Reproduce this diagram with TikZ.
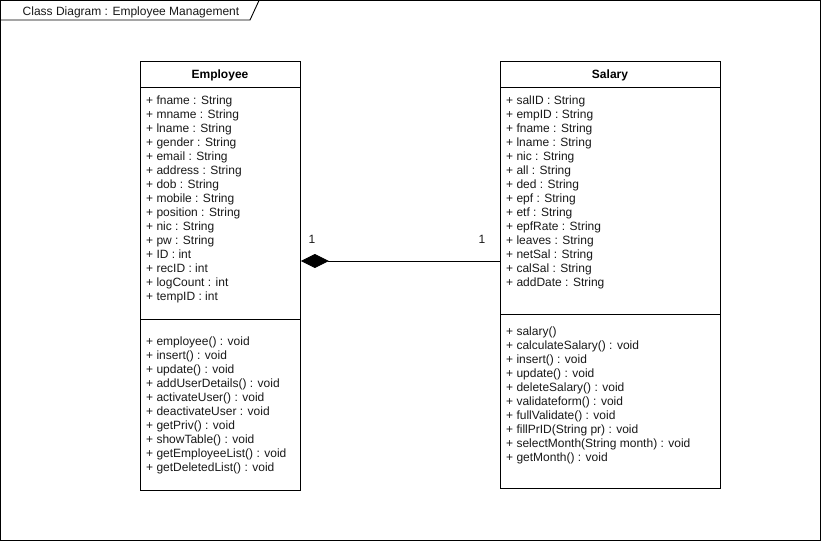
\documentclass[tikz,border=0pt]{standalone}
\usepackage{fontspec}
\setmainfont{Liberation Sans}
\usetikzlibrary{arrows.meta}
\begin{document}
\begin{tikzpicture}[x=1pt,y=-1pt,
  frameline/.style={draw=black,line width=0.9pt},
  classbox/.style={draw=black,line width=0.9pt,fill=white,rectangle,inner sep=0pt,anchor=north west},
  member/.style={anchor=base west,inner sep=0pt,font=\fontsize{12}{14}\selectfont,text=black!90},
  title/.style={anchor=base,inner sep=0pt,font=\fontsize{12}{14}\selectfont\bfseries},
  mult/.style={anchor=base,inner sep=0pt,font=\fontsize{12}{14}\selectfont,text=black!90},
  tabtext/.style={anchor=base,inner sep=0pt,font=\fontsize{12}{14}\selectfont,text=black!90}]
\useasboundingbox (0,0) rectangle (821,541);
\fill[white] (0,0) rectangle (821,541);
% outer frame
\draw[frameline] (0.5,0.5) rectangle (820,540);
\draw[frameline] (0.5,20) -- (250,20) -- (259,0.5);
\node[tabtext] (tab) at (131,15.5) {Class Diagram : Employee Management};
% Employee
\node[classbox,minimum width=160pt,minimum height=429pt] (emp) at (140,61) {};
\draw[frameline] (140,87) -- (300,87);
\draw[frameline] (140,319) -- (300,319);
\node[title] (empt) at (220,78.5) {Employee};
\foreach \t [count=\i from 0] in {+ fname : String,+ mname : String,+ lname : String,+ gender : String,+ email : String,+ address : String,+ dob : String,+ mobile : String,+ position : String,+ nic : String,+ pw : String,+ ID : int,+ recID : int,+ logCount : int,+ tempID : int}
  \node[member] (ea\i) at (146,{104.5+14*\i}) {\t};
\foreach \t [count=\i from 0] in {+ employee() : void,+ insert() : void,+ update() : void,+ addUserDetails() : void,+ activateUser() : void,+ deactivateUser : void,+ getPriv() : void,+ showTable() : void,+ getEmployeeList() : void,+ getDeletedList() : void}
  \node[member] (em\i) at (146,{345.5+14*\i}) {\t};
% Salary
\node[classbox,minimum width=220pt,minimum height=427pt] (sal) at (500,61) {};
\draw[frameline] (500,87) -- (720,87);
\draw[frameline] (500,314) -- (720,314);
\node[title] (salt) at (610,78.5) {Salary};
\foreach \t [count=\i from 0] in {+ salID : String,+ empID : String,+ fname : String,+ lname : String,+ nic : String,+ all : String,+ ded : String,+ epf : String,+ etf : String,+ epfRate : String,+ leaves : String,+ netSal : String,+ calSal : String,+ addDate : String}
  \node[member] (sa\i) at (506,{104.5+14*\i}) {\t};
\foreach \t [count=\i from 0] in {+ salary(),+ calculateSalary() : void,+ insert() : void,+ update() : void,+ deleteSalary() : void,+ validateform() : void,+ fullValidate() : void,+ fillPrID(String pr) : void,+ selectMonth(String month) : void,+ getMonth() : void}
  \node[member] (sm\i) at (506,{335.5+14*\i}) {\t};
% composition
\coordinate (cs) at (sal.west |- 0,261);
\coordinate (ce) at (emp.east |- 0,261);
\draw[line width=0.9pt,-{Diamond[length=28pt,width=14pt,fill=black]}] (cs) -- (ce);
\node[mult] (m1) at (312,243.5) {1};
\node[mult] (m2) at (482,243.5) {1};
\end{tikzpicture}
\end{document}
